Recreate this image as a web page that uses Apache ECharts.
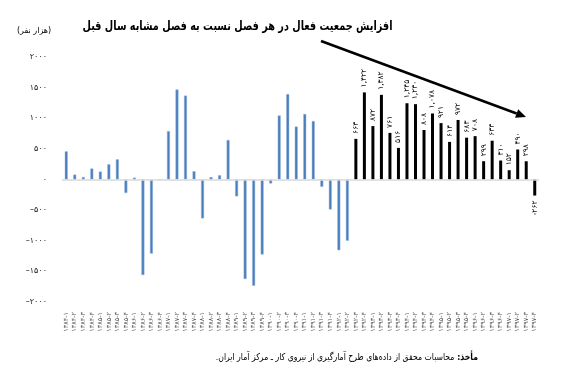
<!DOCTYPE html>
<html>
<head>
<meta charset="utf-8">
<script src="https://cdn.jsdelivr.net/npm/echarts@6/dist/echarts.min.js"></script>
<style>html,body{margin:0;padding:0;background:#fff}#c{width:578px;height:392px}</style>
</head>
<body>
<div id="c"></div>
<script>
// ---- data ----
const years = [1384,1385,1386,1387,1388,1389,1390,1391,1392,1393,1394,1395,1396,1397];
const seasons = [1,2,3,4];
const blueValues = [460,80,40,180,130,250,330,-220,30,-1560,-1210,0,790,1470,1370,135,-635,40,70,645,-275,-1625,-1735,-1225,-65,1045,1395,865,1070,955,-120,-490,-1155,-1000];
const blackValues = [663,1422,872,1382,761,516,1245,1230,808,1078,921,614,972,683,708,299,633,310,152,490,298,-262];
const yTicks = [-2000,-1500,-1000,-500,0,500,1000,1500,2000];
const titleText = 'افزایش جمعیت فعال در هر فصل نسبت به فصل مشابه سال قبل';
const unitText = '(هزار نفر)';
const sourceBold = ':مأخذ';
const sourceText = '.محاسبات محقق از داده‌های طرح آمارگیری از نیروی کار ـ مرکز آمار ایران';

const fa = s => String(s).replace(/[0-9]/g, d => '۰۱۲۳۴۵۶۷۸۹'[d]);
const categories = [];
years.forEach(y => seasons.forEach(s => categories.push(fa(y) + '-' + fa(s))));
const nBlue = blueValues.length;
const blueData = categories.map((c, i) => i < nBlue ? blueValues[i] : '-');
const fmtNum = v => {
  const neg = v < 0; const a = Math.abs(v);
  const s = a >= 1000 ? Math.floor(a/1000) + ',' + String(a%1000).padStart(3,'0') : String(a);
  return (neg ? '-' : '') + fa(s);
};
const blackData = categories.map((c, i) => {
  if (i < nBlue) return '-';
  const v = blackValues[i - nBlue];
  return v < 0 ? {value: v, label: {position: 'bottom', align: 'right'}} : v;
});

const FF = 'DejaVu Sans';
const mctx = document.createElement('canvas').getContext('2d');
const measure = (txt, font) => { mctx.font = font; return mctx.measureText(txt).width; };
const titleFont = 'bold 13px "DejaVu Sans"';
const titleScale = 310 / measure(titleText, titleFont);
const srcW = measure(sourceText + ' ', '9.5px "DejaVu Sans"') + measure(sourceBold, 'bold 9.5px "DejaVu Sans"');
const srcScale = 262 / srcW;

const chart = echarts.init(document.getElementById('c'), null, {renderer:'canvas'});

// arrow geometry (annotation)
const A0 = [321, 41], A1 = [526, 117];
const dx = A1[0]-A0[0], dy = A1[1]-A0[1], L = Math.hypot(dx,dy), ux = dx/L, uy = dy/L;
const hb = [A1[0]-10*ux, A1[1]-10*uy];
const head = [A1, [hb[0]-4.5*uy, hb[1]+4.5*ux], [hb[0]+4.5*uy, hb[1]-4.5*ux]];

chart.setOption({
  animation: false,
  textStyle: {fontFamily: FF},
  grid: {left: 62, right: 39, top: 57, bottom: 90, containLabel: false},
  title: [
    {text: unitText, left: 12, top: 22,
     textStyle: {fontFamily: FF, fontSize: 8, fontWeight: 'normal', color: '#000'}}
  ],
  xAxis: {
    type: 'category', data: categories,
    axisLine: {show: false}, axisTick: {show: false},
    axisLabel: {interval: 0, rotate: 90, fontSize: 6.5, color: '#555', margin: 10, fontFamily: FF}
  },
  yAxis: {
    type: 'value', min: -2000, max: 2000, interval: 500,
    splitLine: {show: false}, axisLine: {show: false}, axisTick: {show: false},
    axisLabel: {fontSize: 8, color: '#222', margin: 15, fontFamily: FF,
      formatter: v => (v < 0 ? '–' : '') + fa(Math.abs(v))}
  },
  series: [
    {type: 'bar', data: blueData, barWidth: 3, barGap: '-100%',
     itemStyle: {color: '#4a7ebb', borderColor: '#9bb9de', borderWidth: 0.5},
     markLine: {silent: true, symbol: 'none', label: {show: false},
       lineStyle: {color: '#d9d9d9', width: 1.5, type: 'solid'}, data: [{yAxis: 0}]}},
    {type: 'bar', data: blackData, barWidth: 3, barGap: '-100%',
     itemStyle: {color: '#000'},
     label: {show: true, rotate: 90, fontSize: 7.5, color: '#000', fontFamily: FF,
       position: 'top', align: 'left', verticalAlign: 'middle', distance: 5,
       formatter: p => fmtNum(p.value)}}
  ],
  graphic: [
    {type: 'text', x: 237.5, y: 27, scaleX: titleScale, z: 100, silent: true,
     style: {text: titleText, font: titleFont, fill: '#000', align: 'center', verticalAlign: 'middle'}},
    {type: 'line', shape: {x1: A0[0], y1: A0[1], x2: hb[0], y2: hb[1]},
     style: {stroke: '#000', lineWidth: 2.5}, silent: true, z: 100},
    {type: 'polygon', shape: {points: head}, style: {fill: '#000'}, silent: true, z: 100},
    {type: 'text', x: 478, y: 358, scaleX: srcScale, z: 100, silent: true,
     style: {text: '{n|' + sourceText + '} {b|' + sourceBold + '}', fill: '#000',
       align: 'right', verticalAlign: 'middle',
       rich: {n: {fontFamily: FF, fontSize: 9.5, fill: '#000'},
              b: {fontFamily: FF, fontSize: 9.5, fontWeight: 'bold', fill: '#000'}}}}
  ]
});
</script>
</body>
</html>
